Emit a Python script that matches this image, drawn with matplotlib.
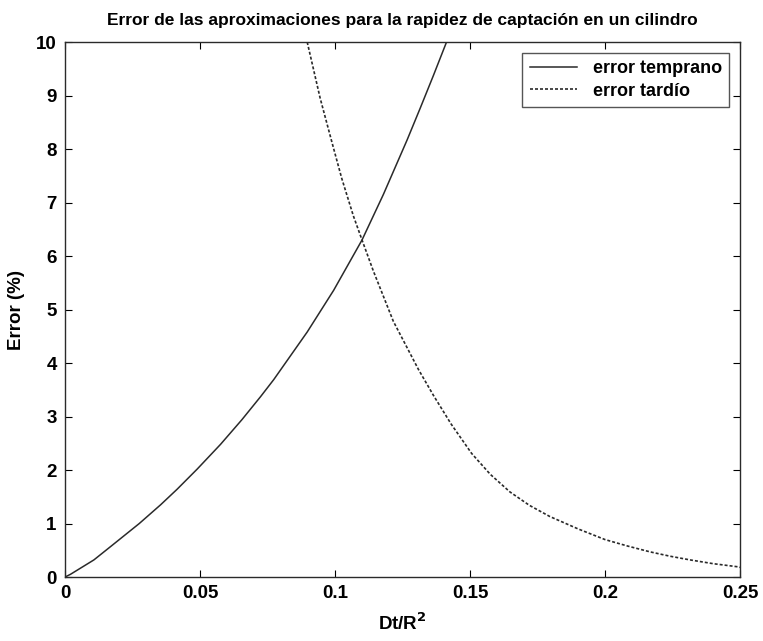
import matplotlib.pyplot as plt

# Error de la aproximación temprana (curva continua)
t_temprano = [0.0, 0.002, 0.0107, 0.0169, 0.0275, 0.0354, 0.0415, 0.049,
              0.0576, 0.0655, 0.0724, 0.0773, 0.0897, 0.0995, 0.110, 0.1179,
              0.1267, 0.1316, 0.1364, 0.1413]
err_temprano = [0.0, 0.05, 0.32, 0.57, 1.0, 1.35, 1.64, 2.02,
                2.48, 2.94, 3.37, 3.69, 4.58, 5.36, 6.3, 7.15,
                8.17, 8.77, 9.37, 10.0]

# Error de la aproximación tardía (curva punteada)
t_tardio = [0.0897, 0.0945, 0.0990, 0.1025, 0.1068, 0.1100, 0.1142, 0.1216,
            0.1309, 0.1364, 0.1430, 0.1506, 0.1575, 0.1648, 0.1720, 0.1796,
            0.1900, 0.2000, 0.2083, 0.2167, 0.2240, 0.2315, 0.2400, 0.2494,
            0.2500]
err_tardio = [10.0, 8.95, 8.1, 7.45, 6.75, 6.30, 5.72, 4.78,
              3.88, 3.40, 2.86, 2.31, 1.92, 1.59, 1.34, 1.13,
              0.9, 0.70, 0.58, 0.47, 0.39, 0.32, 0.25, 0.19,
              0.18]

xticks = [0, 0.05, 0.1, 0.15, 0.2, 0.25]
xticklabels = ["0", "0.05", "0.1", "0.15", "0.2", "0.25"]
yticks = list(range(0, 11))

plt.rcParams["font.family"] = ["Liberation Sans", "DejaVu Sans"]
plt.rcParams["font.weight"] = "bold"
plt.rcParams["axes.titleweight"] = "bold"
plt.rcParams["axes.labelweight"] = "bold"
plt.rcParams["mathtext.default"] = "bf"

fig = plt.figure(figsize=(7.63, 6.41), dpi=100)
ax = fig.add_axes([0.0852, 0.0998, 0.8847, 0.8346])

ink = "#2a2a2a"
ax.plot(t_temprano, err_temprano, color=ink, lw=1.1, label="error temprano")
ax.plot(t_tardio, err_tardio, color=ink, lw=1.2, ls=(0, (1.8, 1.2)),
        label="error tardío")

ax.set_xlim(0, 0.25)
ax.set_ylim(0, 10)
ax.set_xticks(xticks)
ax.set_xticklabels(xticklabels)
ax.set_yticks(yticks)
ax.tick_params(direction="in", top=True, right=True, length=5, width=0.8,
               labelsize=13.5, pad=6)
for s in ax.spines.values():
    s.set_linewidth(1.0)
    s.set_color(ink)

ax.set_title("Error de las aproximaciones para la rapidez de captación en un cilindro",
             fontsize=12.5, pad=12)
ax.set_xlabel("Dt/R$^2$", fontsize=13.5, labelpad=7)
ax.set_ylabel("Error (%)", fontsize=13.5, labelpad=8)

leg = ax.legend(loc="upper right", fontsize=13, frameon=True, fancybox=False,
                edgecolor=ink, handlelength=2.6, borderaxespad=0.6,
                handletextpad=0.9, borderpad=0.4, labelspacing=0.3)
leg.get_frame().set_linewidth(1.0)

fig.savefig("out.png", dpi=100)
